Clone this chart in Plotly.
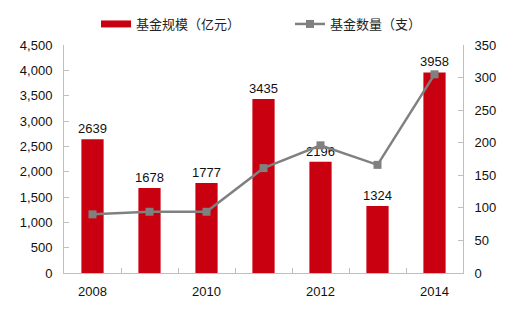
import plotly.graph_objects as go

years = [2008, 2009, 2010, 2011, 2012, 2013, 2014]
fund_size = [2639, 1678, 1777, 3435, 2196, 1324, 3958]
fund_count = [90, 94, 94, 161, 196, 166, 305]
x_tick_vals = [2008, 2010, 2012, 2014]
x_tick_text = ["2008", "2010", "2012", "2014"]
left_ticks = [0, 500, 1000, 1500, 2000, 2500, 3000, 3500, 4000, 4500]
right_ticks = [0, 50, 100, 150, 200, 250, 300, 350]

bar_color = "#c8000f"
line_color = "#808080"
axis_color = "#bfbfbf"
font_family = "Liberation Sans, Arial, sans-serif"

fig = go.Figure()
fig.add_trace(go.Bar(
    x=years, y=fund_size, name="基金规模（亿元）", showlegend=False,
    marker=dict(color=bar_color, line=dict(width=0)),
    text=[str(v) for v in fund_size], textposition="outside",
    constraintext="none",
    textfont=dict(size=13, color="#111111", family=font_family),
    cliponaxis=False, width=0.39,
))
# legend-only entry with a wide red swatch
fig.add_trace(go.Scatter(
    x=[None], y=[None], name="基金规模（亿元）", mode="lines",
    line=dict(color=bar_color, width=7), legend="legend",
))
fig.add_trace(go.Scatter(
    x=years, y=fund_count, name="基金数量（支）", yaxis="y2",
    mode="lines+markers",
    line=dict(color=line_color, width=2.5),
    marker=dict(symbol="square", size=8, color=line_color),
    legend="legend2",
))

legend_font = dict(family="Noto Sans CJK SC", size=13, color="#222222")
fig.update_layout(
    width=520, height=314,
    margin=dict(l=64, r=57, t=45, b=41, autoexpand=False),
    paper_bgcolor="white", plot_bgcolor="white",
    font=dict(family=font_family, size=13, color="#111111"),
    showlegend=True,
    legend=dict(
        orientation="h", xref="container", x=96 / 520, xanchor="left",
        yref="container", y=1 - 24 / 314, yanchor="middle",
        font=legend_font, bgcolor="rgba(0,0,0,0)", itemwidth=30,
    ),
    legend2=dict(
        orientation="h", xref="container", x=290 / 520, xanchor="left",
        yref="container", y=1 - 24 / 314, yanchor="middle",
        font=legend_font, bgcolor="rgba(0,0,0,0)", itemwidth=30,
    ),
    xaxis=dict(
        range=[2007.5, 2014.5], tickmode="array", tickvals=x_tick_vals,
        ticktext=x_tick_text, ticks="", showgrid=False, zeroline=False,
        showline=True, linecolor=axis_color, linewidth=1,
        tickfont=dict(size=13), ticklabelstandoff=6,
        minor=dict(tickmode="array",
                   tickvals=[y + 0.5 for y in years[:-1]],
                   ticks="inside", ticklen=5, tickcolor=axis_color, showgrid=False),
    ),
    yaxis=dict(
        range=[0, 4500], tickmode="array", tickvals=left_ticks,
        tickformat=",d", showgrid=False, zeroline=False,
        showline=True, linecolor=axis_color, linewidth=1,
        ticks="inside", ticklen=5, tickcolor=axis_color,
        tickfont=dict(size=13), ticklabelstandoff=8,
    ),
    yaxis2=dict(
        range=[0, 350], tickmode="array", tickvals=right_ticks,
        overlaying="y", side="right", showgrid=False, zeroline=False,
        showline=True, linecolor=axis_color, linewidth=1,
        ticks="inside", ticklen=5, tickcolor=axis_color,
        tickfont=dict(size=13), ticklabelstandoff=8,
    ),
)

fig.write_html("out.html")
